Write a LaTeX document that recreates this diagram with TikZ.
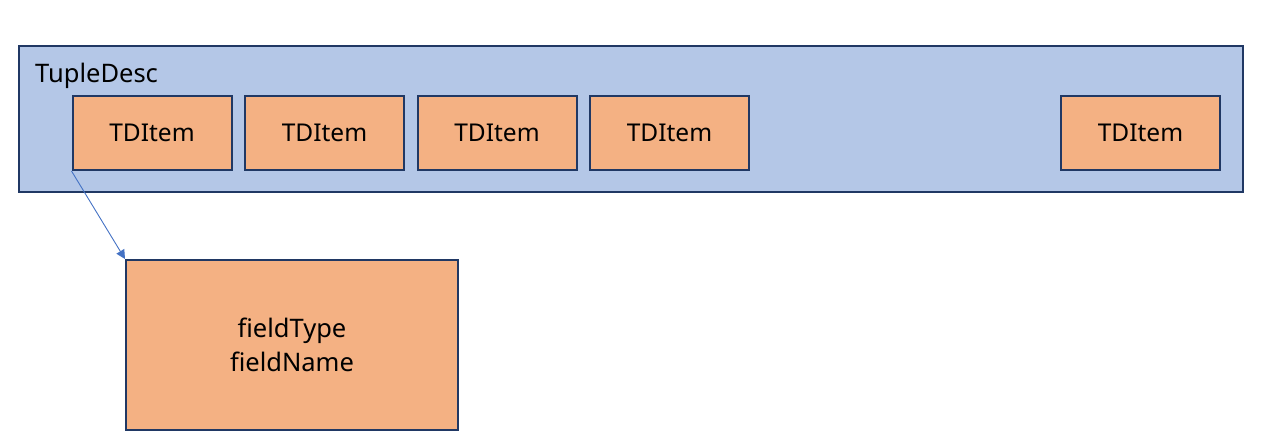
\documentclass[tikz,border=0pt]{standalone}
\usepackage{fontspec}
\setmainfont{Noto Sans}
\usetikzlibrary{arrows.meta}
\definecolor{outerfill}{HTML}{B4C7E7}
\definecolor{itemfill}{HTML}{F4B183}
\definecolor{navy}{HTML}{203864}
\definecolor{linkblue}{HTML}{4472C4}
\begin{document}
\begin{tikzpicture}[x=1pt,y=-1pt,
  outerbox/.style={draw=navy,line width=2pt,fill=outerfill},
  itembox/.style={draw=navy,line width=2pt,fill=itemfill,minimum width=159pt,minimum height=74pt,inner sep=0pt,font=\fontsize{24.5}{28}\selectfont},
  link/.style={draw=linkblue,line width=0.9pt,-{Triangle[length=9pt,width=9pt]}}]
\useasboundingbox (0,0) rectangle (1265,442);
\node[outerbox,minimum width=1224pt,minimum height=146pt,inner sep=0pt,anchor=north west] (desc) at (18,45) {};
\node[anchor=base west,inner sep=0pt,font=\fontsize{25.5}{28}\selectfont] (desclabel) at (35,82) {TupleDesc};
\node[itembox] (i1) at (152,133) {TDItem};
\node[itembox] (i2) at (324.5,133) {TDItem};
\node[itembox] (i3) at (497,133) {TDItem};
\node[itembox] (i4) at (669.5,133) {TDItem};
\node[itembox] (i5) at (1140.5,133) {TDItem};
\node[draw=navy,line width=2pt,fill=itemfill,minimum width=332pt,minimum height=170pt,inner sep=0pt,align=center,font=\fontsize{25.5}{34}\selectfont] (field) at (292,345) {fieldType\\fieldName};
\draw[link] (i1.south west) -- (field.north west);
\end{tikzpicture}
\end{document}
